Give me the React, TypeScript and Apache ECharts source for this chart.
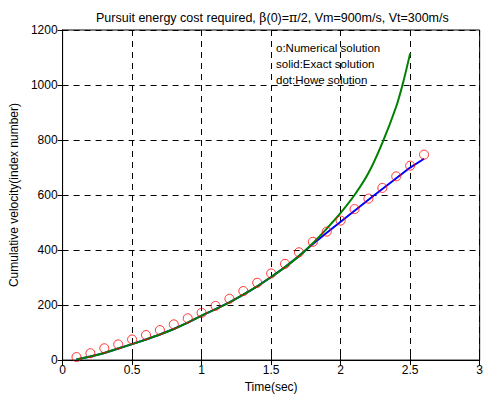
import React, { useEffect, useRef } from "react";
import * as echarts from "echarts";

const numericalT = [0.1, 0.2, 0.3, 0.4, 0.5, 0.6, 0.7, 0.8, 0.9, 1.0, 1.1, 1.2, 1.3, 1.4, 1.5, 1.6, 1.7, 1.8, 1.9, 2.0, 2.1, 2.2, 2.3, 2.4, 2.5, 2.6];
const numericalV = [11, 25, 43, 57, 75, 91, 109, 130, 152, 172, 197, 223, 251, 281, 315, 350, 392, 430, 467, 507, 549, 587, 626, 668, 707, 747];

const exactT = [0.1, 0.2, 0.3, 0.4, 0.5, 0.6, 0.7, 0.8, 0.9, 1.0, 1.1, 1.2, 1.3, 1.4, 1.5, 1.6, 1.7, 1.8, 1.9, 2.0, 2.1, 2.2, 2.3, 2.4, 2.45, 2.5];
const exactV = [2, 13, 26, 42, 58, 75, 93, 113, 136, 162, 185, 210, 238, 268, 302, 338, 378, 425, 478, 535, 600, 680, 790, 922, 1010, 1115];

const howeT = [0.1, 0.2, 0.3, 0.4, 0.5, 0.6, 0.7, 0.8, 0.9, 1.0, 1.1, 1.2, 1.3, 1.4, 1.5, 1.6, 1.7, 1.8, 1.9, 2.0, 2.1, 2.2, 2.3, 2.4, 2.5, 2.6];
const howeV = [2, 13, 26, 42, 58, 75, 93, 113, 136, 162, 185, 210, 238, 268, 302, 338, 378, 422, 463, 503, 543, 583, 622, 661, 700, 732];

const legendLines = ["o:Numerical solution", "solid:Exact solution", "dot:Howe solution"];

const FONT = "Arial, 'Liberation Sans', sans-serif";

export default function App() {
  const ref = useRef<HTMLDivElement>(null);
  useEffect(() => {
    if (!ref.current) return;
    const chart = echarts.init(ref.current, null, { renderer: "svg" });
    const dash = { color: "#000", width: 1, type: [6, 5] as any };
    const plain = (v: number) => String(v);
    chart.setOption({
      animation: false,
      backgroundColor: "#fff",
      title: {
        text: "Pursuit energy cost required, {s|β}(0)={s|π}/2, Vm=900m/s, Vt=300m/s",
        left: 91,
        top: 6,
        textStyle: {
          fontFamily: FONT,
          fontSize: 12.5,
          fontWeight: "normal",
          color: "#000",
          rich: {
            s: { fontFamily: "'DejaVu Serif', serif", fontSize: 12.5, color: "#000" },
          },
        },
      },
      grid: {
        left: 62,
        right: 1,
        top: 30,
        bottom: 35,
        show: true,
        borderColor: "#000",
        borderWidth: 1,
        backgroundColor: "#fff",
      },
      xAxis: [
        {
          type: "value",
          min: 0,
          max: 3,
          interval: 0.5,
          name: "Time(sec)",
          nameLocation: "middle",
          nameGap: 17,
          nameTextStyle: { fontFamily: FONT, fontSize: 12, color: "#000" },
          axisLine: { show: true, lineStyle: { color: "#000" } },
          axisTick: { show: true, inside: true, length: 5, lineStyle: { color: "#000" } },
          axisLabel: { fontFamily: FONT, fontSize: 12, color: "#000", margin: 4, formatter: plain },
          splitLine: { show: true, lineStyle: dash },
        },
        {
          type: "value",
          min: 0,
          max: 3,
          interval: 0.5,
          position: "top",
          axisLine: { show: true, lineStyle: { color: "#000" } },
          axisTick: { show: true, inside: true, length: 5, lineStyle: { color: "#000" } },
          axisLabel: { show: false },
          splitLine: { show: false },
        },
      ],
      yAxis: [
        {
          type: "value",
          min: 0,
          max: 1200,
          interval: 200,
          name: "Cumulative velocity(index number)",
          nameLocation: "middle",
          nameGap: 36,
          nameTextStyle: { fontFamily: FONT, fontSize: 12, color: "#000" },
          axisLine: { show: true, lineStyle: { color: "#000" } },
          axisTick: { show: true, inside: true, length: 5, lineStyle: { color: "#000" } },
          axisLabel: { fontFamily: FONT, fontSize: 12, color: "#000", margin: 5, formatter: plain },
          splitLine: { show: true, lineStyle: dash },
        },
        {
          type: "value",
          min: 0,
          max: 1200,
          interval: 200,
          position: "right",
          axisLine: { show: true, lineStyle: { color: "#000" } },
          axisTick: { show: true, inside: true, length: 5, lineStyle: { color: "#000" } },
          axisLabel: { show: false },
          splitLine: { show: false },
        },
      ],
      series: [
        {
          type: "line",
          data: howeT.map((t, i) => [t, howeV[i]]),
          showSymbol: false,
          symbol: "none",
          lineStyle: { color: "#0000ff", width: 2 },
          z: 2,
        },
        {
          type: "line",
          data: exactT.map((t, i) => [t, exactV[i]]),
          showSymbol: false,
          symbol: "none",
          smooth: 0.3,
          lineStyle: { color: "#008000", width: 2 },
          z: 3,
        },
        {
          type: "scatter",
          data: numericalT.map((t, i) => [t, numericalV[i]]),
          symbol: "circle",
          symbolSize: 9,
          itemStyle: { color: "rgba(0,0,0,0)", borderColor: "#ff0000", borderWidth: 1 },
          z: 4,
        },
      ],
      graphic: legendLines.map((s, i) => ({
        type: "text",
        left: 276,
        top: 42 + i * 16,
        z: 10,
        style: { text: s, fontFamily: FONT, fontSize: 11.5, fill: "#000" },
      })),
    });
    return () => chart.dispose();
  }, []);
  return (
    <div
      ref={ref}
      style={{ position: "fixed", left: 0, top: 0, width: 486, height: 398 }}
    />
  );
}
